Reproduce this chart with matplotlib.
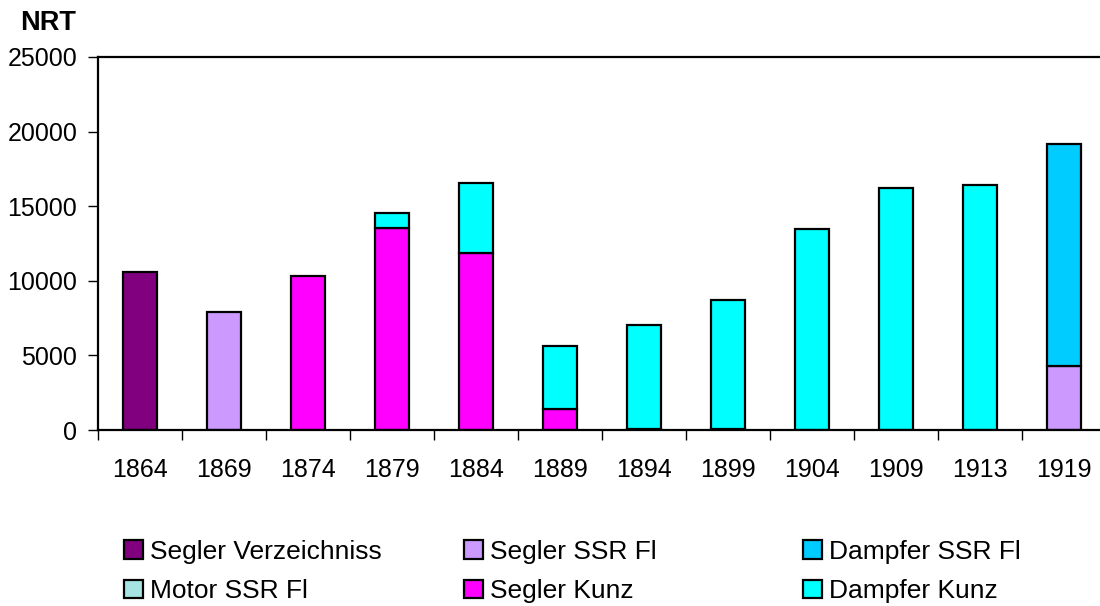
import matplotlib.pyplot as plt
import numpy as np
from matplotlib.patches import Patch

plt.rcParams['font.family'] = ['Liberation Sans', 'DejaVu Sans']

years = ['1864', '1869', '1874', '1879', '1884', '1889', '1894', '1899', '1904', '1909', '1913', '1919']

# NRT per series
segler_verzeichniss = [10600, 0, 0, 0, 0, 0, 0, 0, 0, 0, 0, 0]
segler_ssr = [0, 7900, 0, 0, 0, 0, 0, 0, 0, 0, 0, 4300]
dampfer_ssr = [0, 0, 0, 0, 0, 0, 0, 0, 0, 0, 0, 14900]
motor_ssr = [0, 0, 0, 0, 0, 0, 0, 0, 0, 0, 0, 0]
segler_kunz = [0, 0, 10300, 13550, 11850, 1400, 100, 100, 0, 0, 0, 0]
dampfer_kunz = [0, 0, 0, 1000, 4700, 4250, 6950, 8600, 13450, 16200, 16450, 0]

series = [
    ('Segler Verzeichniss', segler_verzeichniss, '#800080'),
    ('Segler SSR Fl', segler_ssr, '#CC99FF'),
    ('Dampfer SSR Fl', dampfer_ssr, '#00CCFF'),
    ('Motor SSR Fl', motor_ssr, '#A6E3E3'),
    ('Segler Kunz', segler_kunz, '#FF00FF'),
    ('Dampfer Kunz', dampfer_kunz, '#00FFFF'),
]

fig = plt.figure(figsize=(11, 6.06), dpi=100)
ax = fig.add_axes([98 / 1100, 176 / 606, 1008 / 1100, 373 / 606])

x = np.arange(len(years))
bottom = np.zeros(len(years))
# stacking order as drawn in the chart
for name in ['Segler Verzeichniss', 'Segler SSR Fl', 'Motor SSR Fl', 'Segler Kunz', 'Dampfer Kunz', 'Dampfer SSR Fl']:
    vals = np.array([s[1] for s in series if s[0] == name][0], dtype=float)
    col = [s[2] for s in series if s[0] == name][0]
    mask = vals > 0
    ax.bar(x[mask], vals[mask], 0.4, bottom=bottom[mask], color=col,
           edgecolor='black', linewidth=1.6)
    bottom += vals

ax.set_xlim(-0.5, len(years) - 0.5)
ax.set_ylim(0, 25000)
ax.set_yticks(np.arange(0, 25001, 5000))
ax.set_xticks(x)
ax.set_xticklabels(years)
ax.set_xticks(np.arange(-0.5, len(years), 1), minor=True)
ax.tick_params(axis='x', which='major', length=0, pad=20, labelsize=18)
ax.tick_params(axis='x', which='minor', length=7, width=1)
ax.tick_params(axis='y', length=7, width=1, labelsize=18, pad=8)
for sp in ax.spines.values():
    sp.set_linewidth(1.6)

fig.text(20 / 1100, 1 - 23 / 606, 'NRT', fontsize=19.5, fontweight='bold', va='center', ha='left')

# legend, three columns of two rows
cols = [[0, 3], [1, 4], [2, 5]]
xpos = [124, 464, 803]
for c, xp in zip(cols, xpos):
    handles = [Patch(facecolor=series[i][2], edgecolor='black', linewidth=1.6) for i in c]
    labels = [series[i][0] for i in c]
    fig.legend(handles, labels, loc='upper left', bbox_to_anchor=(xp / 1100, 1 - 540 / 606),
               frameon=False, fontsize=19, handlelength=0.72, handleheight=0.72,
               handletextpad=0.25, labelspacing=0.58, borderpad=0, borderaxespad=0)

fig.savefig('out.png', dpi=100)
